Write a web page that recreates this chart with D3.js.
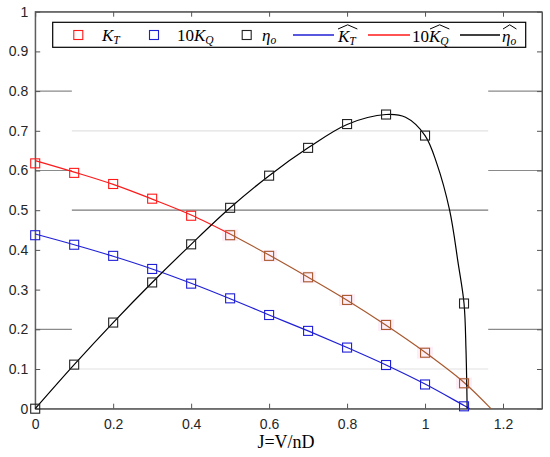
<!DOCTYPE html>
<html>
<head>
<meta charset="utf-8">
<script src="https://cdn.jsdelivr.net/npm/d3@7"></script>
<style>
  body { margin: 0; background: #fff; }
  .tick text { font-family: "Liberation Sans", Arial, sans-serif; font-size: 14px; fill: #262626; }
  .serif { font-family: "Liberation Serif", "DejaVu Serif", serif; }
</style>
</head>
<body>
<div id="chart"></div>
<script>
// measured points
var advance = [0, 0.1, 0.2, 0.3, 0.4, 0.5, 0.6, 0.7, 0.8, 0.9, 1.0, 1.1];
var kt = [0.618, 0.594, 0.566, 0.529, 0.486, 0.437, 0.385, 0.331, 0.274, 0.211, 0.141, 0.064];
var kq10 = [0.437, 0.413, 0.385, 0.352, 0.315, 0.278, 0.236, 0.196, 0.154, 0.110, 0.061, 0.006];
var eta = [0, 0.111, 0.217, 0.318, 0.414, 0.506, 0.587, 0.657, 0.717, 0.741, 0.688, 0.265];

// fitted curves
var ktFitJ = [0, 0.1, 0.2, 0.3, 0.4, 0.5, 0.6, 0.7, 0.8, 0.9, 1.0, 1.1, 1.169];
var ktFit = [0.625, 0.596, 0.565, 0.528, 0.488, 0.440, 0.387, 0.331, 0.273, 0.210, 0.142, 0.066, 0];
var kqFitJ = [0, 0.1, 0.2, 0.3, 0.4, 0.5, 0.6, 0.7, 0.8, 0.9, 1.0, 1.1, 1.115];
var kqFit = [0.440, 0.413, 0.384, 0.352, 0.316, 0.277, 0.236, 0.196, 0.154, 0.110, 0.062, 0.008, 0];
var etaFitJ = [0, 0.1, 0.2, 0.3, 0.4, 0.5, 0.6, 0.7, 0.8, 0.9, 0.95, 1.0, 1.03, 1.063, 1.085, 1.1, 1.105, 1.108];
var etaFit = [0, 0.111, 0.217, 0.318, 0.414, 0.506, 0.587, 0.657, 0.716, 0.741, 0.734, 0.688, 0.618, 0.5, 0.366, 0.265, 0.15, 0];

var xTicks = [0, 0.2, 0.4, 0.6, 0.8, 1, 1.2];
var yTicks = [0, 0.1, 0.2, 0.3, 0.4, 0.5, 0.6, 0.7, 0.8, 0.9, 1];

// stray grey segments in the figure: [y, x0, x1, shade]
var strayLines = [
  [0.8, 0, 0.094, "#8a8a8a"], [0.8, 1.162, 1.3, "#8a8a8a"],
  [0.7, 0.094, 1.162, "#e2e2e2"],
  [0.6, 0, 0.094, "#8a8a8a"], [0.6, 1.162, 1.3, "#8a8a8a"],
  [0.5, 0.094, 1.162, "#7a7a7a"],
  [0.2, 0, 0.094, "#8a8a8a"], [0.2, 1.162, 1.3, "#8a8a8a"],
  [0.1, 0.094, 1.162, "#e2e2e2"]
];

var svgWidth = 550;
var svgHeight = 457;
var margin = { top: 11.7, right: 8, bottom: 48.3, left: 35.2 };
var width = svgWidth - margin.left - margin.right;
var height = svgHeight - margin.top - margin.bottom;

var red = "#ff1a1a", brown = "#a8582e", blue = "#1f1fd6", black = "#000";

var svg = d3.select("#chart").append("svg")
  .attr("width", svgWidth)
  .attr("height", svgHeight);

var chartGroup = svg.append("g")
  .attr("transform", `translate(${margin.left}, ${margin.top})`);

var x = d3.scaleLinear().domain([0, 1.3]).range([0, width]);
var y = d3.scaleLinear().domain([0, 1]).range([height, 0]);

// stray lines
chartGroup.selectAll("line.stray")
  .data(strayLines)
  .enter()
  .append("line")
  .attr("class", "stray")
  .attr("x1", d => x(d[1]))
  .attr("x2", d => x(d[2]))
  .attr("y1", d => y(d[0]))
  .attr("y2", d => y(d[0]))
  .attr("stroke", d => d[3])
  .attr("stroke-width", 1.2);

// axes with inward ticks on all sides
var fmt = d => d3.format("")(+d.toFixed(1));
chartGroup.append("g")
  .attr("transform", `translate(0, ${height})`)
  .call(d3.axisBottom(x).tickValues(xTicks).tickSizeInner(-5).tickSizeOuter(0).tickPadding(10).tickFormat(fmt));
chartGroup.append("g")
  .call(d3.axisTop(x).tickValues(xTicks).tickSizeInner(-5).tickSizeOuter(0).tickFormat(""));
chartGroup.append("g")
  .call(d3.axisLeft(y).tickValues(yTicks).tickSizeInner(-5).tickSizeOuter(0).tickPadding(7).tickFormat(fmt));
chartGroup.append("g")
  .attr("transform", `translate(${width}, 0)`)
  .call(d3.axisRight(y).tickValues(yTicks).tickSizeInner(-5).tickSizeOuter(0).tickFormat(""));
chartGroup.selectAll(".domain, .tick line").attr("stroke", "#555");

chartGroup.append("rect")
  .attr("width", width).attr("height", height)
  .attr("fill", "none").attr("stroke", "#555");

var line = d3.line()
  .x(d => x(d[0]))
  .y(d => y(d[1]))
  .curve(d3.curveCatmullRom.alpha(0.5));

var ktPts = d3.zip(ktFitJ, ktFit);
var split = ktFitJ.indexOf(0.5);

// faint pink halos behind the brownish KT markers
var ktData = d3.zip(advance, kt);
chartGroup.selectAll("rect.halo")
  .data(ktData.filter(d => d[0] >= 0.5))
  .enter()
  .append("rect")
  .attr("x", d => x(d[0]) - 8)
  .attr("y", d => y(d[1]) - 6)
  .attr("width", 16)
  .attr("height", 12)
  .attr("fill", "#fdeef7");

chartGroup.append("path")
  .attr("d", line(ktPts.slice(0, split + 1)))
  .attr("fill", "none").attr("stroke", red).attr("stroke-width", 1.2);
chartGroup.append("path")
  .attr("d", line(ktPts.slice(split)))
  .attr("fill", "none").attr("stroke", brown).attr("stroke-width", 1.2);
chartGroup.append("path")
  .attr("d", line(d3.zip(kqFitJ, kqFit)))
  .attr("fill", "none").attr("stroke", blue).attr("stroke-width", 1.2);
chartGroup.append("path")
  .attr("d", line(d3.zip(etaFitJ, etaFit)))
  .attr("fill", "none").attr("stroke", black).attr("stroke-width", 1.2);

function squares(data, color) {
  chartGroup.append("g").selectAll("rect")
    .data(data)
    .enter()
    .append("rect")
    .attr("x", d => x(d[0]) - 4.5)
    .attr("y", d => y(d[1]) - 4.5)
    .attr("width", 9)
    .attr("height", 9)
    .attr("fill", "none")
    .attr("stroke", color)
    .attr("stroke-width", 1.1);
}
squares(ktData, d => d[0] >= 0.5 ? brown : red);
squares(d3.zip(advance, kq10), blue);
squares(d3.zip(advance, eta), "#222");

// x axis title
svg.append("text")
  .attr("class", "serif")
  .attr("x", 286)
  .attr("y", 448)
  .attr("text-anchor", "middle")
  .attr("font-size", 18)
  .text("J=V/nD");

// legend
var legend = svg.append("g");
legend.append("rect")
  .attr("x", 52.7).attr("y", 22.3)
  .attr("width", 473).attr("height", 25)
  .attr("fill", "#fff").attr("stroke", "#000").attr("stroke-width", 1.2);

function mathLabel(x0, pre, base, sub, hat) {
  var t = legend.append("text")
    .attr("class", "serif")
    .attr("x", x0).attr("y", hat ? 41.5 : 40.5)
    .attr("font-size", 17);
  if (pre) t.append("tspan").text(pre);
  t.append("tspan").attr("font-style", "italic").text(base);
  t.append("tspan").attr("font-style", "italic").attr("font-size", 11.5)
    .attr("dy", 3.5).text(sub);
  if (hat) {
    var bb = t.node().getBBox();
    var preW = pre ? t.node().getSubStringLength(0, pre.length) : 0;
    var hx0 = bb.x + preW + 1, hx1 = bb.x + bb.width;
    legend.append("path")
      .attr("d", `M${hx0},29 L${(hx0 + hx1) / 2},24.8 L${hx1},29`)
      .attr("fill", "none").attr("stroke", "#000").attr("stroke-width", 1);
  }
}

[[78.3, red], [154, blue], [246.7, "#222"]].forEach(function (m) {
  legend.append("rect")
    .attr("x", m[0] - 4.5).attr("y", 30.5)
    .attr("width", 9).attr("height", 9)
    .attr("fill", "none").attr("stroke", m[1]).attr("stroke-width", 1.1);
});
[[293, 334, blue], [368, 410, red], [460, 500, black]].forEach(function (m) {
  legend.append("line")
    .attr("x1", m[0]).attr("x2", m[1]).attr("y1", 35).attr("y2", 35)
    .attr("stroke", m[2]).attr("stroke-width", 1.3);
});

mathLabel(102, "", "K", "T", false);
mathLabel(177, "10", "K", "Q", false);
mathLabel(262, "", "η", "o", false);
mathLabel(338, "", "K", "T", true);
mathLabel(412, "10", "K", "Q", true);
mathLabel(502, "", "η", "o", true);
</script>
</body>
</html>
